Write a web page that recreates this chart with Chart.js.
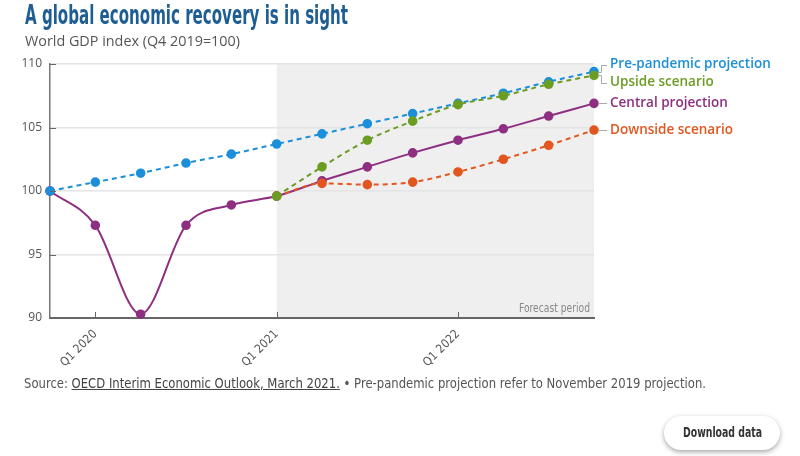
<!DOCTYPE html>
<html>
<head>
<meta charset="utf-8">
<script src="https://cdn.jsdelivr.net/npm/chart.js@4/dist/chart.umd.min.js"></script>
<style>
  html, body { margin: 0; padding: 0; background: #ffffff; width: 800px; height: 456px; overflow: hidden; }
  #wrap { position: relative; width: 800px; height: 456px; }
  #c { position: absolute; left: 0; top: 0; }
  .fit { position: absolute; white-space: nowrap; transform-origin: 0 0; }
  .title { left: 25px; top: 0px; font-family: "DejaVu Sans Condensed", "DejaVu Sans", sans-serif; font-weight: bold; font-size: 26px; color: #1e5e92; }
  .subtitle { left: 25px; top: 31px; font-family: "Open Sans", sans-serif; font-size: 14.5px; color: #555; }
  .source { left: 24px; top: 375px; font-family: "DejaVu Sans Condensed", "DejaVu Sans", sans-serif; font-size: 14px; color: #555; }
  .source u { color: #444; }
  .btn { position: absolute; left: 664px; top: 416px; width: 116px; height: 34px; border-radius: 17px; background: #fff; box-shadow: 0 2px 5px rgba(0,0,0,0.35); }
  .btntext { left: 683px; top: 424px; font-family: "DejaVu Sans Condensed", "DejaVu Sans", sans-serif; font-weight: bold; font-size: 13.5px; color: #333; }
</style>
</head>
<body>
<div id="wrap">
  <canvas id="c" width="800" height="456"></canvas>
  <div class="fit title" data-w="323">A global economic recovery is in sight</div>
  <div class="fit subtitle" data-w="215">World GDP index (Q4 2019=100)</div>
  <div class="fit source" data-w="682">Source: <u>OECD Interim Economic Outlook, March 2021.</u> • Pre-pandemic projection refer to November 2019 projection.</div>
  <div class="btn"></div>
  <div class="fit btntext" data-w="79">Download data</div>
</div>
<script>
const categories = ['Q4 2019','Q1 2020','Q2 2020','Q3 2020','Q4 2020','Q1 2021','Q2 2021','Q3 2021','Q4 2021','Q1 2022','Q2 2022','Q3 2022','Q4 2022'];
const tickLabels = ['Q1 2020','Q1 2021','Q1 2022'];
const prePandemic = [100, 100.7, 101.4, 102.2, 102.9, 103.7, 104.5, 105.3, 106.1, 106.9, 107.7, 108.6, 109.4];
const upside      = [null, null, null, null, null, 99.6, 101.9, 104.0, 105.5, 106.8, 107.5, 108.4, 109.1];
const central     = [100, 97.3, 90.3, 97.3, 98.9, 99.6, 100.8, 101.9, 103.0, 104.0, 104.9, 105.9, 106.9];
const downside    = [null, null, null, null, null, 99.6, 100.6, 100.5, 100.7, 101.5, 102.5, 103.6, 104.8];
const seriesNames = ['Pre-pandemic projection', 'Upside scenario', 'Central projection', 'Downside scenario'];
const forecastStart = 'Q1 2021';
const forecastLabel = 'Forecast period';

document.querySelectorAll('.fit').forEach(el => {
  const target = parseFloat(el.dataset.w);
  const w = el.getBoundingClientRect().width;
  if (w > 0) el.style.transform = 'scaleX(' + (target / w) + ')';
});

const COLORS = { pre: '#1b8fd9', up: '#6c9d23', central: '#8e2f81', down: '#e2561f' };

function ds(label, data, color, dashed) {
  return {
    label, data,
    borderColor: color, backgroundColor: color,
    pointBackgroundColor: color, pointBorderColor: color,
    borderWidth: 2, pointRadius: 3.8, pointHoverRadius: 3.8,
    borderDash: dashed ? [5, 4] : [],
    tension: 0.4, cubicInterpolationMode: 'monotone',
    clip: false, fill: false
  };
}

function fitText(ctx, text, x, y, width) {
  const w = ctx.measureText(text).width;
  ctx.save();
  ctx.translate(x, y);
  ctx.scale(width / w, 1);
  ctx.fillText(text, 0, 0);
  ctx.restore();
}

const bgPlugin = {
  id: 'forecastBg',
  beforeDraw(chart) {
    const { ctx, chartArea, scales } = chart;
    const x0 = scales.x.getPixelForValue(categories.indexOf(forecastStart));
    ctx.save();
    ctx.fillStyle = '#efefef';
    ctx.fillRect(x0, chartArea.top, chartArea.right - x0, chartArea.bottom - chartArea.top);
    ctx.restore();
  },
  afterDraw(chart) {
    const { ctx, chartArea, scales } = chart;
    ctx.save();
    ctx.strokeStyle = '#666'; ctx.lineWidth = 1;
    tickLabels.forEach(l => {
      const x = Math.round(scales.x.getPixelForValue(categories.indexOf(l))) + 0.5;
      ctx.beginPath(); ctx.moveTo(x, chartArea.bottom); ctx.lineTo(x, chartArea.bottom - 6); ctx.stroke();
    });
    [90, 95, 100, 105, 110].forEach(v => {
      const y = Math.round(scales.y.getPixelForValue(v)) + 0.5;
      ctx.beginPath(); ctx.moveTo(chartArea.left, y); ctx.lineTo(chartArea.left + 6, y); ctx.stroke();
    });
    ctx.fillStyle = '#888';
    ctx.font = '12px "DejaVu Sans Condensed", sans-serif';
    ctx.textAlign = 'left'; ctx.textBaseline = 'bottom';
    fitText(ctx, forecastLabel, chartArea.right - 75, chartArea.bottom - 3, 71);
    const last = categories.length - 1;
    const items = [
      { name: seriesNames[0], v: prePandemic[last], c: COLORS.pre },
      { name: seriesNames[1], v: upside[last], c: COLORS.up },
      { name: seriesNames[2], v: central[last], c: COLORS.central },
      { name: seriesNames[3], v: downside[last], c: COLORS.down }
    ].map(it => ({ ...it, py: scales.y.getPixelForValue(it.v) }));
    items.sort((a, b) => a.py - b.py);
    items.forEach(it => it.ly = it.py);
    const gap = 18;
    for (let iter = 0; iter < 20; iter++) {
      for (let i = 1; i < items.length; i++) {
        const d = items[i].ly - items[i - 1].ly;
        if (d < gap) {
          const s = (gap - d) / 2;
          items[i].ly += s; items[i - 1].ly -= s;
        }
      }
    }
    const px = scales.x.getPixelForValue(last);
    ctx.font = '600 13.5px "Open Sans", sans-serif';
    ctx.textAlign = 'left'; ctx.textBaseline = 'middle';
    items.forEach(it => {
      ctx.strokeStyle = '#aaa'; ctx.lineWidth = 1;
      ctx.beginPath();
      if (Math.abs(it.ly - it.py) < 1) {
        ctx.moveTo(px + 4, Math.round(it.py) + 0.5);
        ctx.lineTo(px + 13, Math.round(it.py) + 0.5);
      } else {
        ctx.moveTo(px + 4, Math.round(it.py) + 0.5);
        ctx.lineTo(px + 7.5, Math.round(it.py) + 0.5);
        ctx.lineTo(px + 7.5, Math.round(it.ly) + 0.5);
        ctx.lineTo(px + 13, Math.round(it.ly) + 0.5);
      }
      ctx.stroke();
      ctx.fillStyle = it.c;
      ctx.fillText(it.name, px + 16, it.ly);
    });
    ctx.restore();
  }
};

new Chart(document.getElementById('c'), {
  type: 'line',
  data: {
    labels: categories,
    datasets: [
      ds(seriesNames[1], upside, COLORS.up, true),
      ds(seriesNames[0], prePandemic, COLORS.pre, true),
      ds(seriesNames[3], downside, COLORS.down, true),
      ds(seriesNames[2], central, COLORS.central, false)
    ]
  },
  options: {
    responsive: false,
    animation: false,
    events: [],
    layout: { padding: { left: 10, top: 64, right: 206, bottom: 78 } },
    plugins: { legend: { display: false }, tooltip: { enabled: false } },
    scales: {
      x: {
        type: 'category',
        offset: false,
        afterFit(s) { s.height = 60; },
        grid: { display: false, drawTicks: false },
        border: { display: true, color: '#666', width: 2 },
        ticks: {
          autoSkip: false, maxRotation: 45, minRotation: 45, padding: 9,
          color: '#555', font: { family: '"DejaVu Sans Condensed", sans-serif', size: 12 },
          callback(v) { const l = categories[v]; return tickLabels.includes(l) ? l : ''; }
        }
      },
      y: {
        min: 90, max: 110,
        afterFit(s) { s.width = 40; },
        grid: { color: '#e4e4e4', lineWidth: 1.5, drawTicks: false },
        border: { display: true, color: '#777', width: 1.5 },
        ticks: {
          stepSize: 5, padding: 8, color: '#555',
          font: { family: '"Open Sans", sans-serif', size: 12 }
        }
      }
    }
  },
  plugins: [bgPlugin]
});
</script>
</body>
</html>
